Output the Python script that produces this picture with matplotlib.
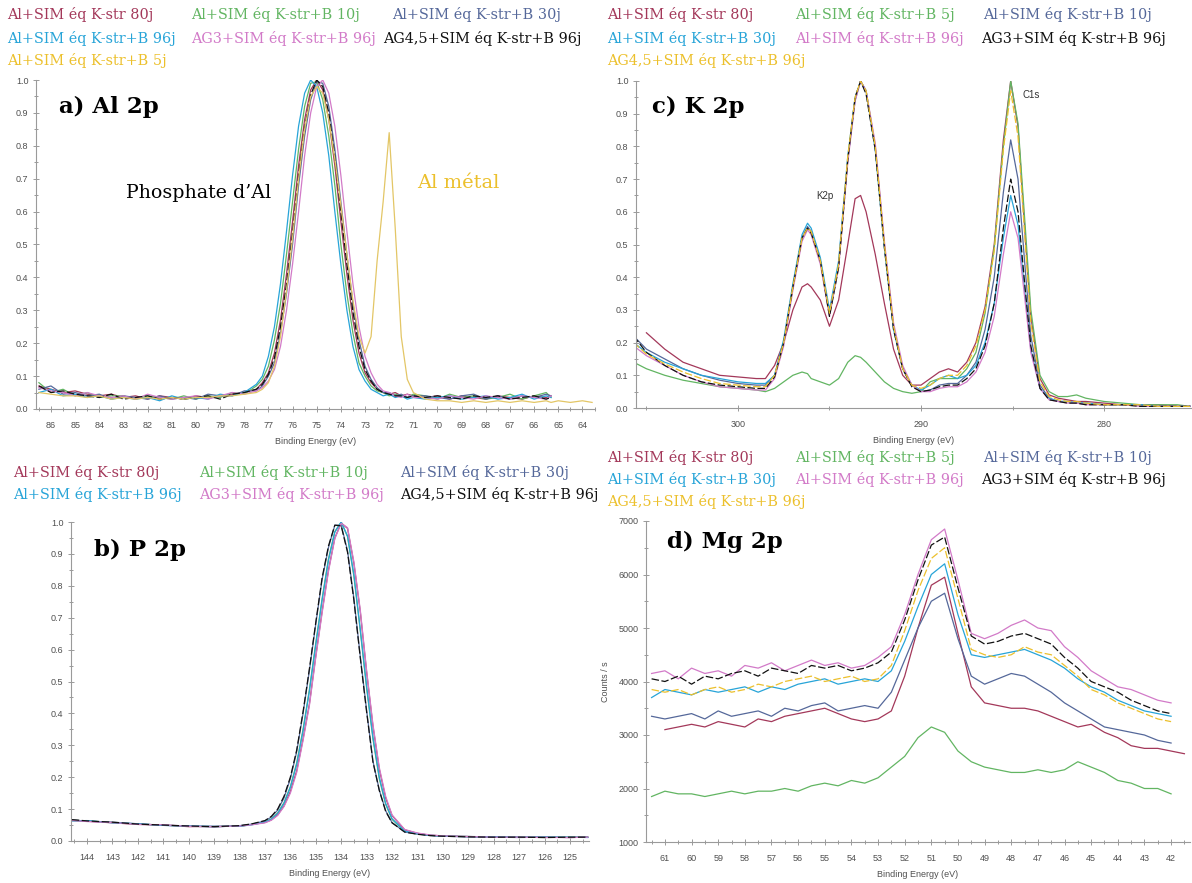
"""XPS overlay figure: Al 2p, K 2p / C 1s, P 2p and Mg 2p spectra of aged samples."""

import matplotlib

matplotlib.use("Agg")
import matplotlib.pyplot as plt
from matplotlib.ticker import FormatStrFormatter, MultipleLocator

nan = float("nan")

W, H = 1192, 883

# sample colours (same order in every panel legend)
RED = "#a3385a"
GREEN = "#62b562"
SLATE = "#55689a"
CYAN = "#27a4d8"
PINK = "#d27ac8"
BLACK = "#111111"
GOLD = "#ecc02c"
COLORS = [RED, GREEN, SLATE, CYAN, PINK, BLACK, GOLD]

AXIS_GREY = "#9a9a9a"
TICK_GREY = "#505050"
SERIF = "DejaVu Serif"
SANS = "Liberation Sans"

# ---------------------------------------------------------------- a) Al 2p
AL_LABELS = ["Al+SIM éq K-str 80j", "Al+SIM éq K-str+B 10j", "Al+SIM éq K-str+B 30j",
             "Al+SIM éq K-str+B 96j", "AG3+SIM éq K-str+B 96j", "AG4,5+SIM éq K-str+B 96j",
             "Al+SIM éq K-str+B 5j"]
AL_BE = [86.5, 86.0, 85.5, 85.0, 84.5, 84.0, 83.5, 83.0, 82.5, 82.0, 81.5, 81.0, 80.5, 80.0,
         79.5, 79.0, 78.5, 78.0,
         77.5, 77.25, 77.0, 76.75, 76.5, 76.25, 76.0, 75.75, 75.5, 75.25, 75.0, 74.75, 74.5,
         74.25, 74.0, 73.75, 73.5, 73.25, 73.0, 72.75, 72.5, 72.25, 72.0, 71.75, 71.5, 71.25, 71.0,
         70.5, 70.0, 69.5, 69.0, 68.5, 68.0, 67.5, 67.0, 66.5, 66.0, 65.5, 65.3,
         65.0, 64.5, 64.0, 63.6]
AL_80J = [.07, .06, .05, .055, .045, .04, .045, .035, .04, .03, .04, .035, .03, .04, .035, .04, .045, .05,
          .06, .08, .11, .17, .27, .41, .57, .74, .88, .97, 1.0, .97, .88, .74, .57, .41, .27, .17, .11,
          .08, .06, .05, .045, .05, .04, .045, .04,
          .035, .04, .03, .04, .035, .03, .04, .035, .03, .04, .035, .04,
          nan, nan, nan, nan]
AL_10J = [.08, .05, .06, .04, .05, .035, .04, .04, .03, .04, .035, .03, .04, .03, .04, .035, .05, .045,
          .07, .09, .13, .21, .32, .47, .63, .79, .92, .99, .995, .94, .83, .68, .50, .35, .23, .14, .10,
          .07, .055, .05, .04, .045, .04, .035, .045,
          .04, .03, .045, .035, .04, .03, .035, .045, .03, .04, .05, .035,
          nan, nan, nan, nan]
AL_30J = [.06, .07, .045, .05, .04, .045, .03, .04, .035, .03, .04, .03, .035, .03, .045, .04, .04, .055,
          .055, .07, .10, .14, .23, .35, .50, .68, .83, .94, .995, .99, .92, .79, .63, .47, .32, .21, .13,
          .09, .065, .05, .05, .04, .045, .035, .04,
          .04, .035, .03, .04, .045, .03, .04, .03, .04, .035, .045, .04,
          nan, nan, nan, nan]
AL_96J = [.05, .06, .04, .045, .035, .04, .03, .035, .03, .035, .025, .04, .03, .035, .03, .045, .04, .05,
          .075, .10, .16, .25, .38, .54, .71, .86, .96, 1.0, .98, .90, .77, .60, .44, .30, .19, .12, .085,
          .06, .05, .04, .045, .035, .04, .03, .035,
          .03, .035, .04, .03, .035, .04, .03, .035, .045, .03, .04, .035,
          nan, nan, nan, nan]
AL_AG3 = [.065, .055, .05, .04, .05, .04, .035, .04, .03, .045, .035, .03, .035, .04, .03, .04, .05, .045,
          .055, .065, .085, .12, .19, .30, .44, .60, .77, .90, .98, 1.0, .96, .86, .71, .54, .38, .25, .16,
          .11, .075, .055, .05, .04, .035, .045, .035,
          .035, .03, .04, .035, .03, .04, .035, .03, .04, .035, .03, .04,
          nan, nan, nan, nan]
AL_AG45 = [.07, .05, .055, .045, .04, .035, .045, .03, .035, .04, .03, .035, .03, .035, .04, .03, .045, .05,
           .06, .075, .105, .155, .25, .38, .535, .71, .855, .955, 1.0, .98, .90, .765, .60, .44, .295, .19,
           .12, .085, .06, .05, .045, .04, .04, .035, .04,
           .035, .04, .035, .03, .04, .035, .04, .03, .035, .04, .03, .035,
           nan, nan, nan, nan]
AL_5J = [.05, .045, .04, .04, .035, .04, .03, .035, .03, .035, .03, .035, .03, .035, .035, .04, .04, .045,
         .05, .06, .08, .13, .22, .36, .52, .70, .85, .95, .98, .96, .88, .76, .62, .47, .33, .22, .17,
         .22, .45, .63, .84, .55, .22, .09, .05,
         .03, .025, .025, .02, .025, .02, .025, .02, .025, .02, .025, .02,
         .025, .02, .025, .02]
AL_SERIES = [AL_80J, AL_10J, AL_30J, AL_96J, AL_AG3, AL_AG45, AL_5J]

# ---------------------------------------------------------------- c) K 2p / C 1s
K_LABELS = ["Al+SIM éq K-str 80j", "Al+SIM éq K-str+B 5j", "Al+SIM éq K-str+B 10j",
            "Al+SIM éq K-str+B 30j", "Al+SIM éq K-str+B 96j", "AG3+SIM éq K-str+B 96j",
            "AG4,5+SIM éq K-str+B 96j"]
K_BE = [305.7, 305.0, 304.0, 303.0, 302.0, 301.0, 300.0, 299.0,
        298.5, 298.0, 297.5, 297.0, 296.5, 296.2, 296.0, 295.5, 295.0, 294.5,
        294.0, 293.6, 293.3, 293.0, 292.5, 292.0, 291.5, 291.0, 290.5, 290.0,
        289.5, 289.0, 288.5, 288.0, 287.5, 287.0, 286.5, 286.0, 285.5, 285.1,
        284.7, 284.3, 284.0, 283.5, 283.0, 282.5, 282.0, 281.5, 281.0,
        280.0, 279.0, 278.0, 277.0, 276.0, 275.3]
K_80J = [nan, .23, .18, .14, .12, .10, .095, .09,
         .09, .13, .2, .3, .37, .38, .37, .33, .25, .33,
         .5, .64, .65, .6, .47, .32, .18, .1, .07, .07,
         .09, .11, .12, .11, .14, .2, .31, .5, .82, 1.0,
         .86, .52, .28, .09, .04, .03, .025, .02, .02,
         .015, .01, .01, .01, .005, .005]
K_5J = [.14, .12, .10, .085, .075, .065, .06, .055,
        .05, .06, .08, .1, .11, .105, .09, .08, .07, .09,
        .14, .16, .155, .14, .11, .08, .06, .05, .045, .05,
        .08, .09, .09, .09, .12, .17, .29, .49, .8, 1.0,
        .87, .55, .3, .1, .05, .035, .035, .04, .03,
        .02, .015, .01, .01, .01, .005]
K_10J = [.22, .18, .15, .12, .10, .085, .075, .07,
         .07, .1, .2, .37, .52, .555, .54, .45, .29, .44,
         .76, .94, 1.0, .97, .8, .5, .25, .12, .07, .05,
         .055, .07, .075, .075, .1, .14, .24, .4, .66, .82,
         .7, .42, .22, .07, .03, .02, .02, .015, .015,
         .01, .01, .01, .005, .005, .005]
K_30J = [.20, .17, .14, .12, .10, .09, .08, .075,
         .075, .1, .21, .38, .53, .565, .55, .46, .30, .45,
         .77, .95, 1.0, .97, .79, .49, .24, .12, .07, .055,
         .07, .09, .1, .09, .1, .13, .2, .32, .52, .65,
         .56, .34, .18, .06, .03, .02, .02, .015, .015,
         .01, .01, .01, .005, .005, .005]
K_96J = [.19, .16, .13, .10, .08, .065, .06, .055,
         .055, .09, .19, .36, .51, .545, .53, .44, .28, .43,
         .75, .94, 1.0, .97, .81, .51, .26, .13, .07, .05,
         .05, .06, .065, .065, .08, .11, .17, .28, .47, .60,
         .52, .32, .17, .06, .025, .02, .015, .015, .01,
         .01, .01, .005, .005, .005, .005]
K_AG3 = [.22, .17, .13, .10, .08, .07, .065, .06,
         .06, .095, .2, .37, .52, .55, .535, .45, .28, .43,
         .76, .95, 1.0, .96, .79, .49, .24, .12, .065, .05,
         .055, .065, .07, .07, .09, .12, .19, .32, .55, .70,
         .6, .36, .19, .06, .025, .02, .015, .015, .01,
         .01, .01, .005, .005, .005, .005]
K_AG45 = [.20, .165, .135, .11, .09, .075, .07, .065,
          .065, .1, .2, .37, .52, .55, .54, .45, .29, .44,
          .77, .95, 1.0, .97, .8, .5, .25, .12, .07, .06,
          .07, .09, .1, .1, .13, .19, .3, .48, .79, .97,
          .83, .5, .26, .08, .035, .025, .02, .02, .015,
          .01, .01, .01, .005, .005, .005]
K_SERIES = [K_80J, K_5J, K_10J, K_30J, K_96J, K_AG3, K_AG45]

# ---------------------------------------------------------------- b) P 2p
P_LABELS = AL_LABELS[:6]
P_BE = [144.6, 144.0, 143.0, 142.0, 141.0, 140.0, 139.0, 138.0, 137.5, 137.0,
        136.75, 136.5, 136.25, 136.0, 135.75, 135.5, 135.25, 135.0, 134.75, 134.5,
        134.25, 134.0, 133.75, 133.5, 133.25, 133.0, 132.75, 132.5, 132.25, 132.0,
        131.5, 131.0, 130.5, 130.0, 129.0, 128.0, 127.0, 126.0, 125.0, 124.3]
P_80J = [.064, .062, .057, .052, .05, .045, .046, .046, .052, .058,
         .066, .082, .11, .155, .22, .32, .43, .58, .72, .85,
         .95, .997, .98, .87, .72, .53, .36, .225, .135, .08,
         .035, .024, .018, .016, .014, .013, .012, .012, .011, .012]
P_10J = [.065, .063, .058, .053, .05, .046, .045, .047, .052, .06,
         .069, .088, .12, .17, .245, .35, .475, .62, .76, .885,
         .97, 1.0, .954, .83, .66, .48, .32, .195, .115, .068,
         .03, .022, .018, .016, .014, .012, .012, .011, .012, .012]
P_30J = [.066, .062, .059, .054, .049, .047, .044, .048, .053, .063,
         .075, .097, .135, .195, .28, .40, .535, .68, .82, .92,
         .99, .99, .91, .76, .58, .41, .25, .16, .095, .058,
         .028, .022, .017, .015, .013, .012, .011, .012, .011, .012]
P_96J = [.063, .064, .057, .054, .049, .047, .046, .046, .051, .059,
         .068, .086, .118, .168, .24, .345, .47, .615, .755, .88,
         .968, 1.0, .956, .835, .665, .485, .325, .2, .118, .07,
         .031, .023, .018, .015, .014, .013, .012, .012, .012, .011]
P_AG3 = [.065, .061, .058, .052, .051, .046, .045, .047, .051, .057,
         .065, .08, .108, .15, .215, .315, .425, .575, .715, .845,
         .948, .996, .982, .875, .725, .535, .365, .23, .14, .082,
         .036, .025, .019, .016, .014, .012, .012, .011, .011, .012]
P_AG45 = [.067, .063, .059, .053, .05, .047, .045, .048, .054, .064,
          .077, .1, .14, .2, .285, .405, .54, .685, .825, .925,
          .99, .988, .905, .755, .575, .405, .248, .158, .093, .057,
          .028, .021, .017, .015, .013, .012, .012, .011, .012, .012]
P_SERIES = [P_80J, P_10J, P_30J, P_96J, P_AG3, P_AG45]

# ---------------------------------------------------------------- d) Mg 2p
MG_LABELS = K_LABELS
MG_BE = [61.5, 61.0, 60.5, 60.0, 59.5, 59.0, 58.5, 58.0, 57.5, 57.0, 56.5, 56.0, 55.5, 55.0,
         54.5, 54.0, 53.5, 53.0, 52.5, 52.0, 51.5, 51.0, 50.5, 50.0, 49.5, 49.0, 48.5, 48.0,
         47.5, 47.0, 46.5, 46.0, 45.5, 45.0, 44.5, 44.0, 43.5, 43.0, 42.5, 42.0, 41.5]
MG_80J = [nan, 3100, 3150, 3200, 3150, 3250, 3200, 3150, 3300, 3250, 3350, 3400, 3450, 3500,
          3400, 3300, 3250, 3300, 3450, 4100, 5000, 5800, 5950, 4900, 3900, 3600, 3550, 3500,
          3500, 3450, 3350, 3250, 3150, 3200, 3050, 2950, 2800, 2750, 2750, 2700, 2650]
MG_5J = [1850, 1950, 1900, 1900, 1850, 1900, 1950, 1900, 1950, 1950, 2000, 1950, 2050, 2100,
         2050, 2150, 2100, 2200, 2400, 2600, 2950, 3150, 3050, 2700, 2500, 2400, 2350, 2300,
         2300, 2350, 2300, 2350, 2500, 2400, 2300, 2150, 2100, 2000, 2000, 1900, nan]
MG_10J = [3350, 3300, 3350, 3400, 3300, 3450, 3350, 3400, 3450, 3350, 3500, 3450, 3550, 3600,
          3450, 3500, 3550, 3500, 3800, 4400, 5000, 5500, 5650, 4800, 4100, 3950, 4050, 4150,
          4100, 3950, 3800, 3600, 3450, 3300, 3150, 3100, 3050, 3000, 2900, 2850, nan]
MG_30J = [3700, 3850, 3800, 3750, 3850, 3800, 3850, 3900, 3800, 3900, 3850, 3950, 4000, 4050,
          3950, 4000, 4050, 4000, 4200, 4750, 5400, 6000, 6200, 5250, 4500, 4450, 4500, 4550,
          4600, 4500, 4400, 4250, 4050, 3900, 3800, 3650, 3550, 3450, 3400, 3350, nan]
MG_96J = [4150, 4200, 4050, 4250, 4150, 4200, 4100, 4300, 4250, 4350, 4200, 4300, 4400, 4300,
          4350, 4250, 4300, 4450, 4650, 5250, 6000, 6650, 6850, 5900, 4900, 4800, 4900, 5050,
          5150, 5000, 4950, 4650, 4450, 4200, 4050, 3900, 3850, 3750, 3650, 3600, nan]
MG_AG3 = [4050, 4000, 4100, 3950, 4100, 4050, 4150, 4200, 4100, 4250, 4200, 4150, 4300, 4250,
          4300, 4200, 4250, 4350, 4550, 5150, 5900, 6550, 6700, 5750, 4850, 4700, 4750, 4850,
          4900, 4800, 4700, 4450, 4250, 4000, 3900, 3800, 3650, 3550, 3450, 3400, nan]
MG_AG45 = [3850, 3800, 3850, 3750, 3850, 3900, 3800, 3850, 3950, 3900, 4000, 4050, 4100, 4000,
           4050, 4100, 4000, 4050, 4300, 4950, 5700, 6300, 6500, 5550, 4600, 4500, 4450, 4500,
           4650, 4550, 4500, 4300, 4100, 3850, 3750, 3600, 3500, 3400, 3300, 3250, nan]
MG_SERIES = [MG_80J, MG_5J, MG_10J, MG_30J, MG_96J, MG_AG3, MG_AG45]

DASH = (0, (6, 2))


def px_axes(fig, left, top, right, bottom):
    """Add an axes given its pixel box (origin top-left)."""
    return fig.add_axes([left / W, 1 - bottom / H, (right - left) / W, (bottom - top) / H])


def fig_text(fig, x, y, s, **kw):
    fig.text(x / W, 1 - y / H, s, va="center", ha=kw.pop("ha", "left"), **kw)


def style_axis(ax, xlim, ylim, xmaj, xmin, ymaj, ymin, yfmt):
    ax.set_xlim(*xlim)
    ax.set_ylim(*ylim)
    ax.patch.set_alpha(0)
    for side in ("top", "right"):
        ax.spines[side].set_visible(False)
    for side in ("left", "bottom"):
        ax.spines[side].set_color(AXIS_GREY)
        ax.spines[side].set_linewidth(0.8)
    ax.xaxis.set_major_locator(MultipleLocator(xmaj))
    ax.xaxis.set_minor_locator(MultipleLocator(xmin))
    ax.yaxis.set_major_locator(MultipleLocator(ymaj))
    ax.yaxis.set_minor_locator(MultipleLocator(ymin))
    ax.xaxis.set_major_formatter(FormatStrFormatter("%d"))
    ax.yaxis.set_major_formatter(FormatStrFormatter(yfmt))
    ax.tick_params(which="both", direction="inout", color=AXIS_GREY, labelcolor=TICK_GREY,
                   labelsize=6.5, width=0.7)
    ax.tick_params(which="major", length=5)
    ax.tick_params(which="minor", length=3)
    ax.tick_params(axis="x", pad=6)
    ax.tick_params(axis="y", pad=3)
    for lab in ax.get_xticklabels() + ax.get_yticklabels():
        lab.set_family(SANS)
    ax.set_xlabel("Binding Energy (eV)", fontsize=6.5, color=TICK_GREY, family=SANS, labelpad=5)


def draw(ax, energy, series, styles, colors=COLORS):
    for values, color, ls in zip(series, colors, styles):
        ax.plot(energy, values, color=color, lw=0.9, ls=ls)


def legend_rows(fig, labels, spots):
    for label, color, (x, y) in zip(labels, COLORS, spots):
        fig_text(fig, x, y, label, color=color, family=SERIF, fontsize=10.4)


def main():
    fig = plt.figure(figsize=(W / 100, H / 100), dpi=100)

    # a) Al 2p -- the metallic Al trace is drawn pale, as in the original export
    ax = px_axes(fig, 36, 80, 595, 409)
    draw(ax, AL_BE, AL_SERIES, ["-", "-", "-", "-", "-", DASH, "-"],
         colors=COLORS[:6] + ["#e3c666"])
    style_axis(ax, (86.62, 63.48), (0, 1.0), 1, 0.5, 0.1, 0.05, "%.1f")
    legend_rows(fig, AL_LABELS, [(7, 15), (191, 15), (392, 15), (7, 38), (191, 38), (383, 38), (7, 60)])
    fig_text(fig, 59, 107, "a) Al 2p", family=SERIF, fontsize=16.5, fontweight="bold")
    fig_text(fig, 126, 193, "Phosphate d’Al", family=SERIF, fontsize=13.7)
    fig_text(fig, 417, 183, "Al métal", family=SERIF, fontsize=14, color=GOLD)

    # c) K 2p / C 1s
    ax = px_axes(fig, 636, 81, 1191, 408)
    draw(ax, K_BE, K_SERIES, ["-", "-", "-", "-", "-", DASH, DASH])
    style_axis(ax, (305.57, 275.25), (0, 1.0), 10, 5, 0.1, 0.05, "%.1f")
    legend_rows(fig, K_LABELS, [(607, 15), (795, 15), (983, 15), (607, 38), (795, 38), (981, 38), (607, 60)])
    fig_text(fig, 652, 107, "c) K 2p", family=SERIF, fontsize=16.5, fontweight="bold")
    fig_text(fig, 825, 196, "K2p", family=SANS, fontsize=7, color="#333333", ha="center")
    fig_text(fig, 1031, 95, "C1s", family=SANS, fontsize=7, color="#333333", ha="center")

    # b) P 2p
    ax = px_axes(fig, 71, 522, 589, 841)
    draw(ax, P_BE, P_SERIES, ["-", "-", "-", "-", "-", DASH])
    style_axis(ax, (144.63, 124.25), (0, 1.0), 1, 0.5, 0.1, 0.05, "%.1f")
    legend_rows(fig, P_LABELS, [(13, 472), (199, 472), (400, 472), (13, 494), (199, 494), (400, 494)])
    fig_text(fig, 94, 550, "b) P 2p", family=SERIF, fontsize=16.5, fontweight="bold")

    # d) Mg 2p
    ax = px_axes(fig, 646, 521, 1190, 842)
    draw(ax, MG_BE, MG_SERIES, ["-", "-", "-", "-", "-", DASH, DASH])
    style_axis(ax, (61.71, 41.29), (1000, 7000), 1, 0.5, 1000, 500, "%d")
    ax.set_ylabel("Counts / s", fontsize=6.5, color=TICK_GREY, family=SANS, labelpad=6)
    legend_rows(fig, MG_LABELS, [(607, 458), (795, 458), (983, 458), (607, 480), (795, 480), (981, 480), (607, 501)])
    fig_text(fig, 667, 542, "d) Mg 2p", family=SERIF, fontsize=16.5, fontweight="bold")

    fig.savefig("out.png", dpi=100)
    plt.close(fig)


if __name__ == "__main__":
    main()
